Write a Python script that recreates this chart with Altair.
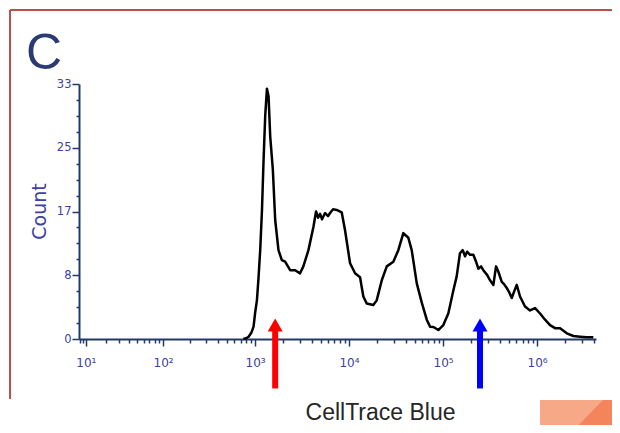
import json
import altair as alt
import pandas as pd

# ---- histogram (decades of intensity, counts) ----
log_intensity = [2.875, 2.906, 2.931, 2.960, 2.984, 3.002, 3.020, 3.037, 3.055, 3.074,
                 3.091, 3.109, 3.127, 3.144, 3.162, 3.190, 3.215, 3.250, 3.286, 3.321,
                 3.374, 3.427, 3.480, 3.515, 3.569, 3.622, 3.650, 3.672, 3.693, 3.714,
                 3.746, 3.778, 3.799, 3.831, 3.870, 3.923, 3.958, 4.012, 4.065, 4.118,
                 4.153, 4.189, 4.224, 4.259, 4.295, 4.349, 4.402, 4.472, 4.525, 4.578,
                 4.631, 4.667, 4.721, 4.774, 4.827, 4.862, 4.897, 4.950, 5.003, 5.056,
                 5.110, 5.145, 5.180, 5.209, 5.234, 5.255, 5.287, 5.322, 5.351, 5.375,
                 5.404, 5.428, 5.468, 5.499, 5.535, 5.563, 5.588, 5.624, 5.648, 5.677,
                 5.701, 5.730, 5.754, 5.783, 5.818, 5.871, 5.924, 5.978, 6.031, 6.084,
                 6.137, 6.190, 6.244, 6.315, 6.385, 6.456, 6.527, 6.597]
counts = [0, 0.1, 0.3, 0.8, 1.6, 3.5, 5.0, 7.9, 11.5, 16.7,
          23.2, 29.0, 32.4, 31.4, 26.2, 21.9, 15.4, 11.5, 10.2, 10.0,
          8.9, 8.9, 8.5, 9.4, 11.5, 14.5, 16.5, 15.7, 16.2, 15.5,
          16.3, 15.9, 16.3, 16.8, 16.7, 16.4, 14.1, 9.8, 8.5, 8.0,
          5.5, 4.6, 4.5, 4.4, 5.0, 7.6, 9.4, 10.0, 11.5, 13.7,
          13.1, 11.5, 7.2, 4.7, 2.5, 1.6, 1.55, 1.16, 1.8, 3.3,
          6.3, 8.1, 11.1, 11.5, 10.7, 11.3, 10.9, 10.9, 10.0, 9.1,
          9.4, 8.9, 8.3, 7.6, 7.0, 9.4, 8.7, 7.4, 7.1, 6.6,
          6.1, 5.3, 6.1, 7.0, 5.5, 4.2, 3.7, 4.0, 3.3, 2.5,
          1.8, 1.4, 1.4, 0.74, 0.39, 0.30, 0.22, 0.22]
assert len(log_intensity) == len(counts)

# ---- arrows ----
arrow_pos = [1640, 247000]
arrow_colors = ["#ff0000", "#0000ff"]
arrow_tip = [1.81, 1.81]
arrow_top = [1.2, 1.2]
arrow_bottom = [-6.4, -6.4]

# ---- axes ----
x_domain = [7.55, 4.22e6]
x_major = [10, 100, 1000, 10000, 100000, 1000000]
x_major_labels = ["10¹", "10²", "10³", "10⁴", "10⁵", "10⁶"]
x_minor = [m * 10 ** d for d in range(0, 7) for m in range(2, 10)
           if x_domain[0] <= m * 10 ** d <= x_domain[1]]
y_major = [0, 8.25, 16.5, 24.75, 33]
y_major_labels = ["0", "8", "17", "25", "33"]
y_minor = [2.0625, 4.125, 6.1875, 10.3125, 12.375, 14.4375,
           18.5625, 20.625, 22.6875, 26.8125, 28.875, 30.9375]

hist_df = pd.DataFrame({"intensity": [10 ** v for v in log_intensity], "count": counts})
arrow_df = pd.DataFrame({"pos": arrow_pos, "col": arrow_colors, "tip": arrow_tip,
                         "top": arrow_top, "bottom": arrow_bottom})
deco_df = pd.DataFrame({"k": [0]})


def lab_expr(vals, labs):
    v = json.dumps(vals)
    return "indexof(%s, datum.value) >= 0 ? %s[indexof(%s, datum.value)] : ''" % (
        v, json.dumps(labs, ensure_ascii=False), v)


NAVY = "#22386b"
LAB = "#4040aa"

xs = alt.Scale(type="symlog", constant=6, domain=x_domain, nice=False)
ys = alt.Scale(domain=[0, 33], nice=False, zero=False)

minor_x = alt.Axis(orient="bottom", values=x_minor, tickSize=4, tickWidth=1.5, tickColor=NAVY,
                   labels=False, domain=False, grid=False, title=None)
major_x = alt.Axis(orient="bottom", values=x_major, tickSize=7, tickWidth=1.5, tickColor=NAVY,
                   domain=True, domainColor=NAVY, domainWidth=2, grid=False,
                   labelExpr=lab_expr(x_major, x_major_labels), labelFont="DejaVu Sans",
                   labelFontSize=12, labelColor=LAB, labelPadding=11, labelFlush=False,
                   labelOverlap=False, labelBound=False,
                   title="CellTrace Blue", titleX=301, titleY=80, titleAlign="center",
                   titleBaseline="alphabetic", titleFont="Liberation Sans", titleFontSize=23,
                   titleFontWeight="normal", titleColor="#262626")
minor_y = alt.Axis(orient="left", values=y_minor, tickSize=3, tickWidth=1.5, tickColor=NAVY,
                   labels=False, domain=False, grid=False, title=None)
major_y = alt.Axis(orient="left", values=y_major, tickSize=7, tickWidth=1.5, tickColor=NAVY,
                   domain=True, domainColor=NAVY, domainWidth=2, grid=False,
                   labelExpr=lab_expr(y_major, y_major_labels), labelFont="DejaVu Sans",
                   labelFontSize=11.5, labelColor=LAB, labelPadding=1, labelFlush=False,
                   labelOverlap=False, labelBound=False,
                   title="Count", titleX=-34, titleY=127, titleAngle=270, titleAlign="center",
                   titleBaseline="alphabetic", titleFont="DejaVu Sans", titleFontSize=19,
                   titleFontWeight="normal", titleColor=LAB)

box = alt.Chart(deco_df).mark_rect(color="#f6a887").encode(
    x=alt.value(461), x2=alt.value(541), y=alt.value(316), y2=alt.value(349))
box_dark = alt.Chart(deco_df).mark_point(
    shape="M0,0L1,0L-0.98,1.01Z", filled=True, size=40000, opacity=1,
    color="#f4845b", strokeWidth=0).encode(x=alt.value(524), y=alt.value(316))
frame_top = alt.Chart(deco_df).mark_rule(color="#b9504c", strokeWidth=2).encode(
    x=alt.value(-69), x2=alt.value(533), y=alt.value(-74))
frame_left = alt.Chart(deco_df).mark_rule(color="#b9504c", strokeWidth=2).encode(
    x=alt.value(-69), y=alt.value(-74), y2=alt.value(315))
title_c = alt.Chart(deco_df).mark_text(
    text="C", align="left", baseline="alphabetic", font="Liberation Sans",
    fontSize=50, color="#2a3a72").encode(x=alt.value(-53), y=alt.value(-15))

hist = alt.Chart(hist_df).mark_line(color="black", strokeWidth=2.5, strokeJoin="round").encode(
    x=alt.X("intensity:Q", scale=xs, axis=minor_x),
    y=alt.Y("count:Q", scale=ys, axis=minor_y))
shafts = alt.Chart(arrow_df).mark_rule(strokeWidth=6).encode(
    x=alt.X("pos:Q", scale=xs, axis=major_x),
    y=alt.Y("top:Q", scale=ys, axis=major_y),
    y2="bottom:Q",
    color=alt.Color("col:N", scale=None))
heads = alt.Chart(arrow_df).mark_point(shape="triangle-up", filled=True, size=225, opacity=1).encode(
    x=alt.X("pos:Q", scale=xs, axis=None),
    y=alt.Y("tip:Q", scale=ys, axis=None),
    color=alt.Color("col:N", scale=None))

chart = alt.layer(box, box_dark, frame_top, frame_left, title_c, hist, shafts, heads).resolve_axis(
    x="independent", y="independent"
).properties(
    width=517, height=255,
    padding={"left": 71, "top": 76, "right": 16, "bottom": 86},
    autosize=alt.AutoSizeParams(type="none"),
    background="white",
).configure_view(stroke=None)

chart.save("out.html", embed_options={"renderer": "svg", "actions": False})
